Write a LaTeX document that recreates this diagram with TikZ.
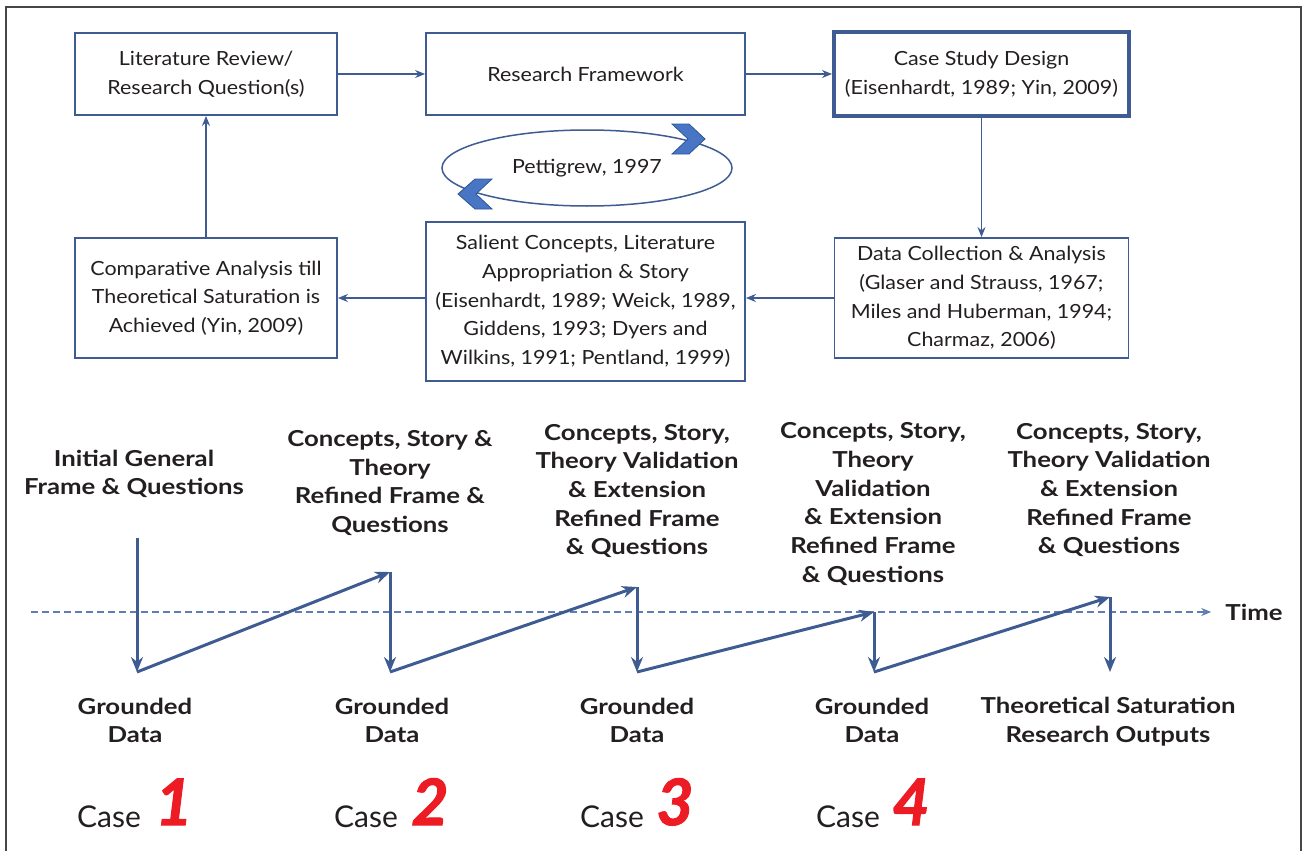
\documentclass[tikz,border=0pt]{standalone}
\usepackage{fontspec}
\setmainfont{Lato}
\newfontfamily\boxfont[FakeStretch=1.1]{Lato}
\newfontfamily\stagefont[FakeStretch=1.17]{Lato}
\newfontfamily\numfont[BoldItalicFeatures={FakeBold=1.6}]{Lato}
\usetikzlibrary{arrows.meta,shapes.geometric}
\definecolor{boxblue}{RGB}{62,92,145}
\definecolor{chevfill}{RGB}{72,118,196}
\definecolor{chevline}{RGB}{45,85,155}
\definecolor{inkgray}{RGB}{35,31,32}
\definecolor{casered}{RGB}{237,28,36}
\definecolor{timeblue}{RGB}{95,125,178}
\definecolor{framegray}{RGB}{70,70,70}

\begin{document}
\begin{tikzpicture}[x=1pt,y=-1pt,
  procbox/.style={draw=boxblue, line width=1.8pt, text=inkgray, align=center,
    inner sep=0pt, font=\boxfont\fontsize{19.5}{28.7}\selectfont},
  flow/.style={draw=boxblue, line width=1.3pt, -{Stealth[length=10pt,width=8pt]}},
  zig/.style={draw=boxblue, line width=3pt, -{Stealth[length=15pt,width=12pt]}},
  stage/.style={text=inkgray, align=center, inner sep=0pt,
    font=\stagefont\fontsize{22}{28.7}\selectfont\bfseries},
  caseword/.style={text=inkgray, anchor=base, inner sep=0pt,
    font=\fontsize{30}{34}\selectfont},
  casenum/.style={text=casered, anchor=base, inner sep=0pt,
    font=\numfont\fontsize{64}{70}\selectfont\bfseries\itshape},
  chevron/.style={fill=chevfill, draw=chevline, line width=0.8pt, line join=miter}]
\useasboundingbox (0,0) rectangle (1307,851);

% outer frame
\draw[framegray, line width=1.5pt] (6,870) -- (6,7) -- (1301,7) -- (1301,870);

% ---- research process boxes ----
\node[procbox, minimum width=262, minimum height=82] (lit) at (206,74)
  {Literature Review/\\Research Question(s)};
\node[procbox, minimum width=319, minimum height=82] (frame) at (585.5,74)
  {Research Framework};
\node[procbox, line width=4pt, minimum width=295, minimum height=83] (design) at (981.5,74)
  {Case Study Design\\(Eisenhardt, 1989; Yin, 2009)};
\node[procbox, minimum width=294, minimum height=120] (data) at (981.5,298)
  {Data Collection \& Analysis\\(Glaser and Strauss, 1967;\\Miles and Huberman, 1994;\\Charmaz, 2006)};
\node[procbox, minimum width=319, minimum height=159] (salient) at (585.5,301.5)
  {Salient Concepts, Literature\\Appropriation \& Story\\(Eisenhardt, 1989; Weick, 1989,\\Giddens, 1993; Dyers and\\Wilkins, 1991; Pentland, 1999)};
\node[procbox, minimum width=262, minimum height=120] (comp) at (206,298)
  {Comparative Analysis till\\Theoretical Saturation is\\Achieved (Yin, 2009)};

\draw[flow] (lit.east) -- (frame.west);
\draw[flow] (frame.east) -- (design.west);
\draw[flow] (design.south) -- (data.north);
\draw[flow] (data.west) -- (salient.east |- data.west);
\draw[flow] (salient.west |- comp.east) -- (comp.east);
\draw[flow] (comp.north) -- (lit.south);

% iteration loop
\node[ellipse, draw=boxblue, line width=1.5pt, minimum width=290, minimum height=76,
  inner sep=0pt, text=inkgray, font=\boxfont\fontsize{19.5}{22}\selectfont] (pett) at (587,168)
  {Pettigrew, 1997};
\fill[chevron] (672,124) -- (689,124) -- (705,139) -- (689,154) -- (672,154) -- (688,139) -- cycle;
\fill[chevron] (492,179) -- (475,179) -- (458,194) -- (475,209) -- (492,209) -- (476,194) -- cycle;

% ---- time line ----
\coordinate (t0) at (31,612);
\node[text=inkgray, inner sep=0pt, font=\stagefont\fontsize{22}{24}\selectfont\bfseries] (time) at (1254,612) {Time};
\draw[timeblue, line width=1.5pt, dash pattern=on 7pt off 4pt,
  -{Stealth[length=10pt,width=8pt]}, shorten >=14pt] (t0) -- (time.west);

% zigzag of cases
\coordinate (s0) at (137,538);
\coordinate (g1) at (137,672);
\coordinate (p1) at (390,572);
\coordinate (g2) at (390,672);
\coordinate (p2) at (637,587);
\coordinate (g3) at (637,672);
\coordinate (p3) at (874,612);
\coordinate (g4) at (874,672);
\coordinate (p4) at (1110,597);
\coordinate (g5) at (1110,672);
\draw[zig] (s0) -- (g1);
\draw[zig] (g1) -- (p1);
\draw[zig] (p1) -- (g2);
\draw[zig] (g2) -- (p2);
\draw[zig] (p2) -- (g3);
\draw[zig] (g3) -- (p3);
\draw[zig] (p3) -- (g4);
\draw[zig] (g4) -- (p4);
\draw[zig] (p4) -- (g5);

% stage labels above the line
\node[stage] (st1) at (134,474) {Initial General\\Frame \& Questions};
\node[stage] (st2) at (390,483) {Concepts, Story \&\\Theory\\Refined Frame \&\\Questions};
\node[stage] (st3) at (637,491) {Concepts, Story,\\Theory Validation\\\& Extension\\Refined Frame\\\& Questions};
\node[stage] (st4) at (873,504) {Concepts, Story,\\Theory\\Validation\\\& Extension\\Refined Frame\\\& Questions};
\node[stage] (st5) at (1109,490) {Concepts, Story,\\Theory Validation\\\& Extension\\Refined Frame\\\& Questions};

% labels below the line
\node[stage] (gd1) at (135,720.5) {Grounded\\Data};
\node[stage] (gd2) at (392,720.5) {Grounded\\Data};
\node[stage] (gd3) at (637,720.5) {Grounded\\Data};
\node[stage] (gd4) at (872,720.5) {Grounded\\Data};
\node[stage] (out) at (1108,721.5) {Theoretical Saturation\\Research Outputs};

% case numbers
\node[caseword] (c1) at (109,827) {Case};
\node[casenum] (n1) at (174,825) {1};
\node[caseword] (c2) at (366,827) {Case};
\node[casenum] (n2) at (430,825) {2};
\node[caseword] (c3) at (612,827) {Case};
\node[casenum] (n3) at (675,825) {3};
\node[caseword] (c4) at (848,827) {Case};
\node[casenum] (n4) at (911,825) {4};
\end{tikzpicture}
\end{document}
